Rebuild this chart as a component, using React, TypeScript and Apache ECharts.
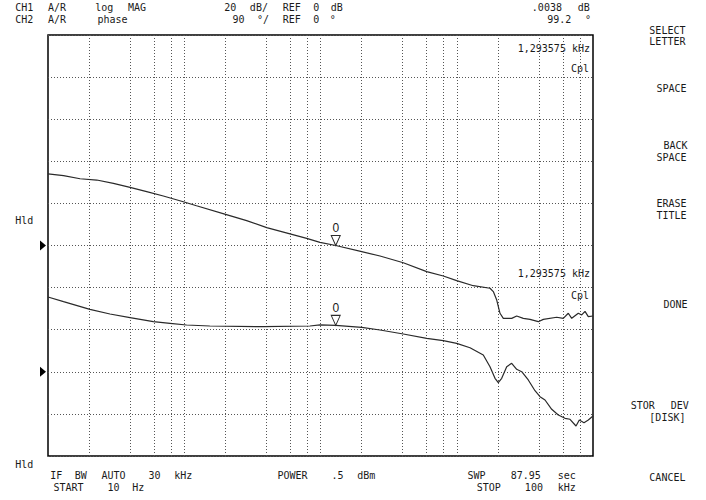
import React, { useEffect, useRef } from "react";
import * as echarts from "echarts";

// ---- sweep / scales ----
const startFreq = 10;
const stopFreq = 100000;
const gridFreqs = [20, 40, 60, 80, 100, 200, 400, 600, 800, 1000, 2000, 4000, 6000, 8000, 10000, 20000, 40000, 60000, 80000];
const ch1Min = -100;
const ch1Max = 100;
const ch1Div = 20;
const ch2Min = -180;
const ch2Max = 720;
const ch2Div = 90;

// ---- CH1 log MAG (dB) ----
const ch1Freq = [10, 13, 17.2, 22.8, 30.2, 40, 53, 70.2, 98.4, 123, 201, 287, 403, 597, 792, 991, 1294, 2007, 2734, 4053, 6018, 7966, 9991, 13230, 17540, 18550, 19650, 20770, 21970, 25310, 27540, 30790, 34480, 39680, 43180, 54160, 60530, 65880, 69780, 78010, 82640, 87370, 92360, 100000];
const ch1Mag = [34.0, 33.2, 31.7, 31.1, 29.5, 27.6, 25.6, 23.5, 20.8, 18.9, 14.8, 11.8, 8.5, 5.5, 3.4, 1.5, 0.0, -2.9, -5.0, -8.2, -12.4, -14.5, -16.7, -19.1, -20.3, -21.9, -25.9, -32.2, -34.6, -34.6, -33.5, -34.6, -35.1, -36.2, -35.1, -34.1, -34.6, -32.2, -34.6, -32.2, -33.0, -31.3, -33.8, -33.5];

// ---- CH2 phase (deg) ----
const ch2Freq = [10, 13, 20.3, 28.5, 40, 59.3, 78.6, 104, 154, 380, 837, 991, 1294, 2007, 2734, 4053, 6018, 7966, 9991, 12510, 15660, 17540, 19090, 20180, 21380, 23260, 25310, 27540, 29970, 33500, 37520, 40830, 44440, 49770, 55630, 62310, 67800, 75050, 79340, 85880, 92360, 100000];
const ch2Phase = [160, 150, 133.6, 123.6, 115.7, 107.1, 103.7, 100, 97.9, 96.4, 97.9, 100.5, 99.2, 95.1, 89.4, 80.8, 71.6, 66.5, 60.9, 51.5, 35.9, 10.9, -13.9, -23.3, -13.9, 10.9, 18.2, 5.3, 0.2, -17.5, -40.4, -53.2, -60.3, -80.2, -92.4, -99.4, -101.5, -115.9, -103, -108.8, -103, -94.5];

// ---- marker ----
const markerFreq = 1293.575;
const markerMag = 0.0038;
const markerPhase = 99.2;

// ---- texts ----
const headerLeft = ["CH1 A/R", "CH2 A/R"];
const headerFormat = ["log MAG", "phase"];
const headerScale = ["20 dB/ REF 0 dB", " 90 °/ REF 0 °"];
const headerReadout = [".0038 dB", "99.2 °"];
const markerReadout = "1,293575 kHz";
const couplingText = "Cpl";
const holdText = "Hld";
const footerLeft = ["IF BW AUTO  30 kHz", "START  10 Hz"];
const footerMid = "POWER  .5 dBm";
const footerRight = ["SWP  87.95 sec", "STOP  100 kHz"];
const softkeys: [string, number][] = [
  ["SELECT", 30], ["LETTER", 41.5], ["SPACE", 88], ["BACK", 145], ["SPACE", 157],
  ["ERASE", 203], ["TITLE", 215], ["DONE", 304], ["STOR DEV", 405.5], ["[DISK]", 417.5], ["CANCEL", 477],
];

const FONT = '10px "DejaVu Sans Mono", monospace';
const INK = "#1a1a1a";
const TRACE = "#2a2a2a";
const DOT = "#555";
const PITCH = 8.2; // character cell width of the instrument's screen font

function txt(text: string, x: number, y: number, align: "left" | "right" | "center" = "left") {
  return {
    type: "text",
    x,
    y,
    silent: true,
    style: { text, font: FONT, fill: INK, textAlign: align, textVerticalAlign: "middle" },
  };
}

// place the words of a row on the instrument's character grid (each word centred in its cells)
function row(str: string, x0: number, y: number) {
  const out: any[] = [];
  const re = /\S+/g;
  let m: RegExpExecArray | null;
  while ((m = re.exec(str))) {
    out.push(txt(m[0], x0 + (m.index + m[0].length / 2) * PITCH, y, "center"));
  }
  return out;
}
function rowR(str: string, xRight: number, y: number) {
  return row(str, xRight - str.length * PITCH, y);
}

const markerSymbol = "path://M0,0L10,0L5,10Z";

function markerItem(value: number) {
  return {
    coord: [markerFreq, value],
    symbol: markerSymbol,
    symbolSize: [9, 10],
    symbolOffset: [0, -5],
    itemStyle: { color: "#fff", borderColor: TRACE, borderWidth: 1 },
    label: { show: true, position: "top", distance: 1, formatter: "0", font: FONT, color: INK },
  };
}

function refItem() {
  return {
    coord: [startFreq, 0],
    symbol: "triangle",
    symbolSize: [10, 6],
    symbolRotate: -90,
    symbolOffset: [-5, 0],
    itemStyle: { color: "#000", borderWidth: 0 },
    label: { show: false },
  };
}

export default function App() {
  const ref = useRef<HTMLDivElement>(null);
  useEffect(() => {
    const chart = echarts.init(ref.current!, null, { renderer: "svg" });
    const option: any = {
      animation: false,
      backgroundColor: "#fff",
      grid: { left: 48, top: 35, right: 113, bottom: 44, show: true, borderColor: "#000", borderWidth: 1.5, backgroundColor: "transparent" },
      xAxis: {
        type: "log",
        logBase: 10,
        min: startFreq,
        max: stopFreq,
        axisLine: { show: false },
        axisTick: { show: false },
        axisLabel: { show: false },
        splitLine: { show: false },
      },
      yAxis: [
        {
          type: "value",
          min: ch1Min,
          max: ch1Max,
          interval: ch1Div,
          axisLine: { show: false },
          axisTick: { show: false },
          axisLabel: { show: false },
          splitLine: { show: true, lineStyle: { color: DOT, width: 1, type: [1, 2] } },
        },
        {
          type: "value",
          min: ch2Min,
          max: ch2Max,
          interval: ch2Div,
          axisLine: { show: false },
          axisTick: { show: false },
          axisLabel: { show: false },
          splitLine: { show: false },
        },
      ],
      series: [
        {
          type: "line",
          yAxisIndex: 0,
          data: ch1Freq.map((f, i) => [f, ch1Mag[i]]),
          showSymbol: false,
          symbol: "none",
          smooth: false,
          lineStyle: { color: TRACE, width: 1.2 },
          z: 5,
          markLine: {
            silent: true,
            symbol: ["none", "none"],
            label: { show: false },
            lineStyle: { color: DOT, width: 1, type: [1, 2] },
            data: gridFreqs.map((f) => ({ xAxis: f })),
            z: 1,
          },
          markPoint: { silent: true, data: [markerItem(markerMag), refItem()] },
        },
        {
          type: "line",
          yAxisIndex: 1,
          data: ch2Freq.map((f, i) => [f, ch2Phase[i]]),
          showSymbol: false,
          symbol: "none",
          smooth: false,
          lineStyle: { color: TRACE, width: 1.2 },
          z: 5,
          markPoint: { silent: true, data: [markerItem(markerPhase), refItem()] },
        },
      ],
      graphic: [
        ...row(headerLeft[0], 12, 7.5),
        ...row(headerLeft[1], 12, 19.5),
        ...row(headerFormat[0], 92, 7.5),
        ...row(headerFormat[1], 92, 19.5),
        ...row(headerScale[0], 222, 7.5),
        ...row(headerScale[1], 222, 19.5),
        ...rowR(headerReadout[0], 592, 7.5),
        ...rowR(headerReadout[1], 592, 19.5),
        txt(markerReadout, 590, 48, "right"),
        txt(couplingText, 589, 68, "right"),
        txt(markerReadout, 590, 273, "right"),
        txt(couplingText, 589, 295, "right"),
        ...row(holdText, 12, 220),
        ...row(holdText, 12, 464),
        ...row(footerLeft[0], 48, 475.5),
        ...row(footerLeft[1], 48, 487.5),
        ...row(footerMid, 272, 475.5),
        ...rowR(footerRight[0], 579, 475.5),
        ...rowR(footerRight[1], 579, 487.5),
        ...softkeys.flatMap(([t, y]) => rowR(t, 692, y)),
      ],
    };
    chart.setOption(option);
    return () => chart.dispose();
  }, []);
  return <div ref={ref} style={{ position: "absolute", left: 0, top: 0, width: 706, height: 500, background: "#fff" }} />;
}
